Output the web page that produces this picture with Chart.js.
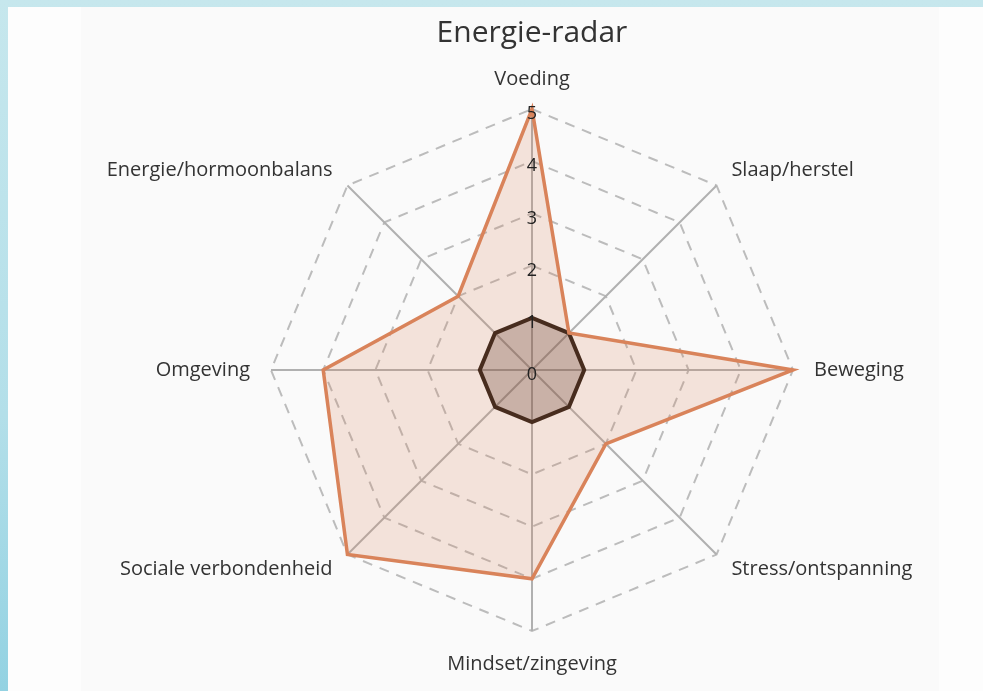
<!DOCTYPE html>
<html>
<head>
<meta charset="utf-8">
<script src="https://cdn.jsdelivr.net/npm/chart.js@4/dist/chart.umd.min.js"></script>
<style>
  html, body { margin: 0; padding: 0; width: 983px; height: 691px; overflow: hidden;
    background: linear-gradient(180deg, #c6e7ed 0%, #b3dfe9 60%, #93d2e2 100%); }
  #white { position: absolute; left: 8px; top: 7px; right: 0; bottom: 0; background: #fdfdfd; }
  #panel { position: absolute; left: 81px; top: 7px; width: 858px; bottom: 0; background: #fafafa; }
  #wrap { position: absolute; left: 60px; top: 7px; width: 944px; height: 684px; }
</style>
</head>
<body>
<div id="white"></div>
<div id="panel"></div>
<div id="wrap"><canvas id="c"></canvas></div>
<script>
const categories = ["Voeding", "Slaap/herstel", "Beweging", "Stress/ontspanning",
  "Mindset/zingeving", "Sociale verbondenheid", "Omgeving", "Energie/hormoonbalans"];
const scoreValues = [5, 1, 5, 2, 4, 5, 4, 2];
const baseValues = [1, 1, 1, 1, 1, 1, 1, 1];
const tickValues = [0, 1, 2, 3, 4, 5];
const chartTitle = "Energie-radar";

const FONT = "'Open Sans', 'Noto Sans', sans-serif";

// Draw the tick numbers (including 0, which Chart.js skips) via the scale
const tickLabels = {
  id: 'tickLabels',
  afterDatasetsDraw(chart) {
    const s = chart.scales.r;
    const ctx = chart.ctx;
    ctx.save();
    ctx.font = "18px " + FONT;
    ctx.fillStyle = '#222';
    ctx.textAlign = 'center';
    ctx.textBaseline = 'middle';
    tickValues.forEach((v) => {
      const p = s.getPointPositionForValue(0, v);
      ctx.fillText(String(v), p.x, p.y + 5);
    });
    ctx.restore();
  }
};

new Chart(document.getElementById('c'), {
  type: 'radar',
  data: {
    labels: categories,
    datasets: [
      {
        data: scoreValues,
        borderColor: '#d9835a',
        backgroundColor: 'rgba(217,131,89,0.2)',
        borderWidth: 3.5,
        pointRadius: 0,
        pointHoverRadius: 0,
        fill: true
      },
      {
        data: baseValues,
        borderColor: '#24170f',
        backgroundColor: 'rgba(60,30,20,0.28)',
        borderWidth: 4,
        pointRadius: 0,
        pointHoverRadius: 0,
        fill: true
      }
    ]
  },
  options: {
    responsive: true,
    maintainAspectRatio: false,
    animation: false,
    layout: { padding: { bottom: 13 } },
    plugins: {
      legend: { display: false },
      tooltip: { enabled: false },
      title: {
        display: true,
        text: chartTitle,
        color: '#333',
        font: { family: FONT, size: 30, weight: 'normal' },
        padding: { top: 8, bottom: 15 }
      }
    },
    scales: {
      r: {
        min: 0,
        max: 5,
        ticks: {
          stepSize: 1,
          showLabelBackdrop: false,
          color: 'rgba(0,0,0,0)',
          font: { family: FONT, size: 18 },
          callback: (v) => String(v)
        },
        grid: { color: '#bcbcbc', lineWidth: 2, borderDash: [10, 8] },
        border: { dash: [10, 8] },
        angleLines: { color: '#b0b0b0', lineWidth: 2 },
        pointLabels: {
          color: '#333',
          padding: (ctx) => (ctx.index === 0 ? 7 : 10),
          font: (ctx) => ({
            family: FONT,
            size: 20,
            lineHeight: (ctx.index % 2 === 1) ? 0 : 1.2
          })
        }
      }
    }
  },
  plugins: [tickLabels]
});
</script>
</body>
</html>
